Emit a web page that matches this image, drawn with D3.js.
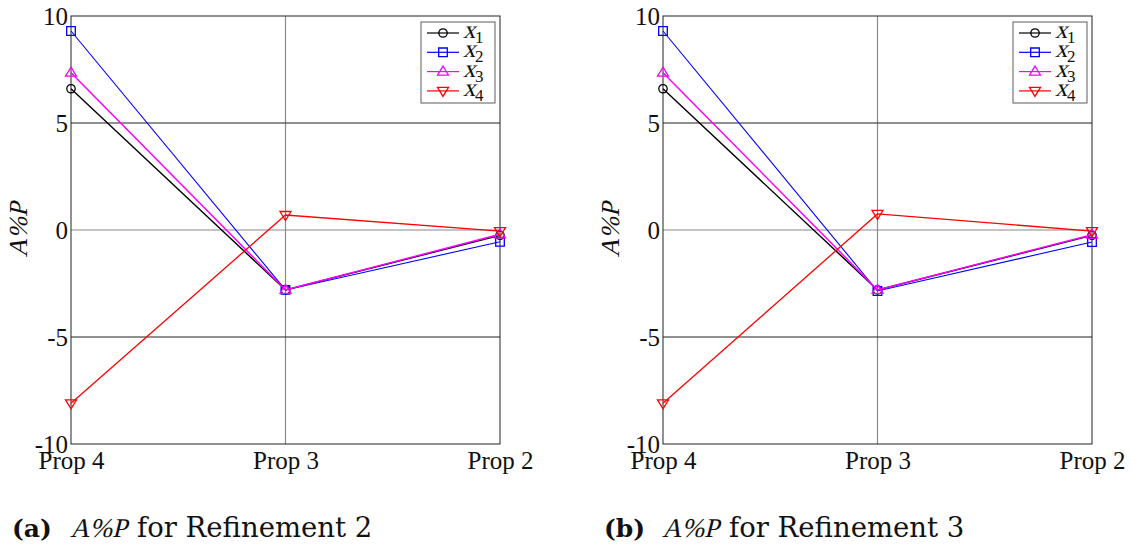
<!DOCTYPE html>
<html>
<head>
<meta charset="utf-8">
<script src="https://cdn.jsdelivr.net/npm/d3@7"></script>
<style>
  html, body { margin: 0; padding: 0; background: #fff; }
  svg { display: block; }
</style>
</head>
<body>
<svg id="chart" width="1131" height="549"></svg>
<script>
// Proposal stages along the x axis
const categories = ["Prop 4", "Prop 3", "Prop 2"];
const yTicks = [-10, -5, 0, 5, 10];
const yGrid = [-5, 0, 5];

const seriesNames = ["x1", "x2", "x3", "x4"];
const seriesSubs = ["1", "2", "3", "4"];
const seriesColors = ["#000000", "#0000ff", "#ff00ff", "#ff0000"];
const seriesMarkers = ["circle", "square", "triUp", "triDown"];
const seriesWidths = [1.4, 1.1, 1.5, 1.3];

// Refinement 2 values (A%P)
const ref2_x1 = [6.6, -2.8, -0.25];
const ref2_x2 = [9.3, -2.8, -0.55];
const ref2_x3 = [7.35, -2.8, -0.2];
const ref2_x4 = [-8.1, 0.7, -0.05];

// Refinement 3 values (A%P)
const ref3_x1 = [6.6, -2.8, -0.25];
const ref3_x2 = [9.3, -2.85, -0.56];
const ref3_x3 = [7.35, -2.8, -0.22];
const ref3_x4 = [-8.1, 0.75, -0.05];

const panels = [
  { left: 71, label: "(a)", refName: "for Refinement 2", series: [ref2_x1, ref2_x2, ref2_x3, ref2_x4] },
  { left: 663, label: "(b)", refName: "for Refinement 3", series: [ref3_x1, ref3_x2, ref3_x3, ref3_x4] }
];

const plotW = 429, plotTop = 16, plotBottom = 444;
const serif = "'Liberation Serif', 'Times New Roman', serif";
const svg = d3.select("#chart");

// slanted serif text (math-style italics)
function slanted(parent, tx, ty, str, size, opts = {}) {
  const rot = opts.rotate ? ` rotate(${opts.rotate})` : "";
  return parent.append("text")
    .attr("transform", `translate(${tx},${ty})${rot} skewX(-14)`)
    .attr("text-anchor", opts.anchor || "start")
    .attr("font-family", serif).attr("font-size", size)
    .attr("fill", "#111").text(str);
}

function markerPath(type) {
  const s = 4.3;
  if (type === "square") return `M${-s},${-s}H${s}V${s}H${-s}Z`;
  if (type === "triUp") return `M0,${-5.5}L${5.5},${3.5}L${-5.5},${3.5}Z`;
  if (type === "triDown") return `M0,${5.5}L${5.5},${-3.5}L${-5.5},${-3.5}Z`;
  return null;
}

function drawMarker(sel, type, color) {
  if (type === "circle") {
    sel.append("circle").attr("r", 4.2).attr("fill", "none")
      .attr("stroke", color).attr("stroke-width", 1.3);
  } else {
    sel.append("path").attr("d", markerPath(type)).attr("fill", "none")
      .attr("stroke", color).attr("stroke-width", 1.3);
  }
}

panels.forEach(p => {
  const x = d3.scalePoint().domain(categories).range([p.left, p.left + plotW]);
  const y = d3.scaleLinear().domain([-10, 10]).range([plotBottom, plotTop]);
  const g = svg.append("g");

  // grid
  g.append("line")
    .attr("x1", x("Prop 3")).attr("x2", x("Prop 3"))
    .attr("y1", plotTop).attr("y2", plotBottom)
    .attr("stroke", "#8a8a8a").attr("stroke-width", 1.2);
  yGrid.forEach(v => {
    g.append("line")
      .attr("x1", p.left).attr("x2", p.left + plotW)
      .attr("y1", y(v)).attr("y2", y(v))
      .attr("stroke", v === 0 ? "#8a8a8a" : "#222").attr("stroke-width", v === 0 ? 1.2 : 1);
  });

  // frame
  g.append("rect")
    .attr("x", p.left).attr("y", plotTop)
    .attr("width", plotW).attr("height", plotBottom - plotTop)
    .attr("fill", "none").attr("stroke", "#222").attr("stroke-width", 1);

  // y axis
  const yAxis = g.append("g")
    .attr("transform", `translate(${p.left - 3},0)`)
    .call(d3.axisLeft(y).tickValues(yTicks).tickSize(0).tickPadding(0).tickFormat(d => String(d)));
  yAxis.select(".domain").remove();
  yAxis.selectAll("text")
    .attr("font-family", serif).attr("font-size", 25)
    .attr("fill", "#111").attr("dy", "0.34em");

  // x axis
  const xAxis = g.append("g")
    .attr("transform", `translate(0,${plotBottom})`)
    .call(d3.axisBottom(x).tickSize(0).tickPadding(0));
  xAxis.select(".domain").remove();
  xAxis.selectAll("text")
    .attr("font-family", serif).attr("font-size", 25)
    .attr("fill", "#111").attr("y", 25).attr("dy", 0);

  // y title
  slanted(g, p.left - 44, y(0), "A%P", 26, { anchor: "middle", rotate: -90 });

  // series
  const line = d3.line().x((d, i) => x(categories[i])).y(d => y(d));
  p.series.forEach((vals, k) => {
    g.append("path").datum(vals)
      .attr("d", line).attr("fill", "none")
      .attr("stroke", seriesColors[k]).attr("stroke-width", seriesWidths[k]);
    vals.forEach((v, i) => {
      const m = g.append("g").attr("transform", `translate(${x(categories[i])},${y(v)})`);
      drawMarker(m, seriesMarkers[k], seriesColors[k]);
    });
  });

  // legend
  const lx = p.left + 350, ly = 22;
  const lg = g.append("g").attr("transform", `translate(${lx},${ly})`);
  lg.append("rect").attr("x", 0).attr("y", 0).attr("width", 74).attr("height", 81)
    .attr("fill", "#fff").attr("stroke", "#777").attr("stroke-width", 1.2);
  seriesNames.forEach((name, k) => {
    const ry = 11 + k * 19.3;
    lg.append("line").attr("x1", 6).attr("x2", 38).attr("y1", ry).attr("y2", ry)
      .attr("stroke", seriesColors[k]).attr("stroke-width", 1.2);
    const m = lg.append("g").attr("transform", `translate(22,${ry})`);
    drawMarker(m, seriesMarkers[k], seriesColors[k]);
    slanted(lg, 42, ry + 5, "x", 25);
    lg.append("text").attr("x", 54).attr("y", ry + 10)
      .attr("font-family", serif).attr("font-size", 17)
      .attr("fill", "#111").text(seriesSubs[k]);
  });

  // caption
  const cx = p.left - 59, cy = 537;
  g.append("text").attr("x", cx).attr("y", cy)
    .attr("font-family", "DejaVu Serif").attr("font-weight", "bold")
    .attr("font-size", 25).attr("fill", "#111").text(p.label);
  slanted(g, cx + 58, cy, "A%P", 27);
  g.append("text").attr("x", cx + 125).attr("y", cy)
    .attr("font-family", "DejaVu Serif")
    .attr("font-size", 27.5).attr("fill", "#111").text(p.refName);
});
</script>
</body>
</html>
